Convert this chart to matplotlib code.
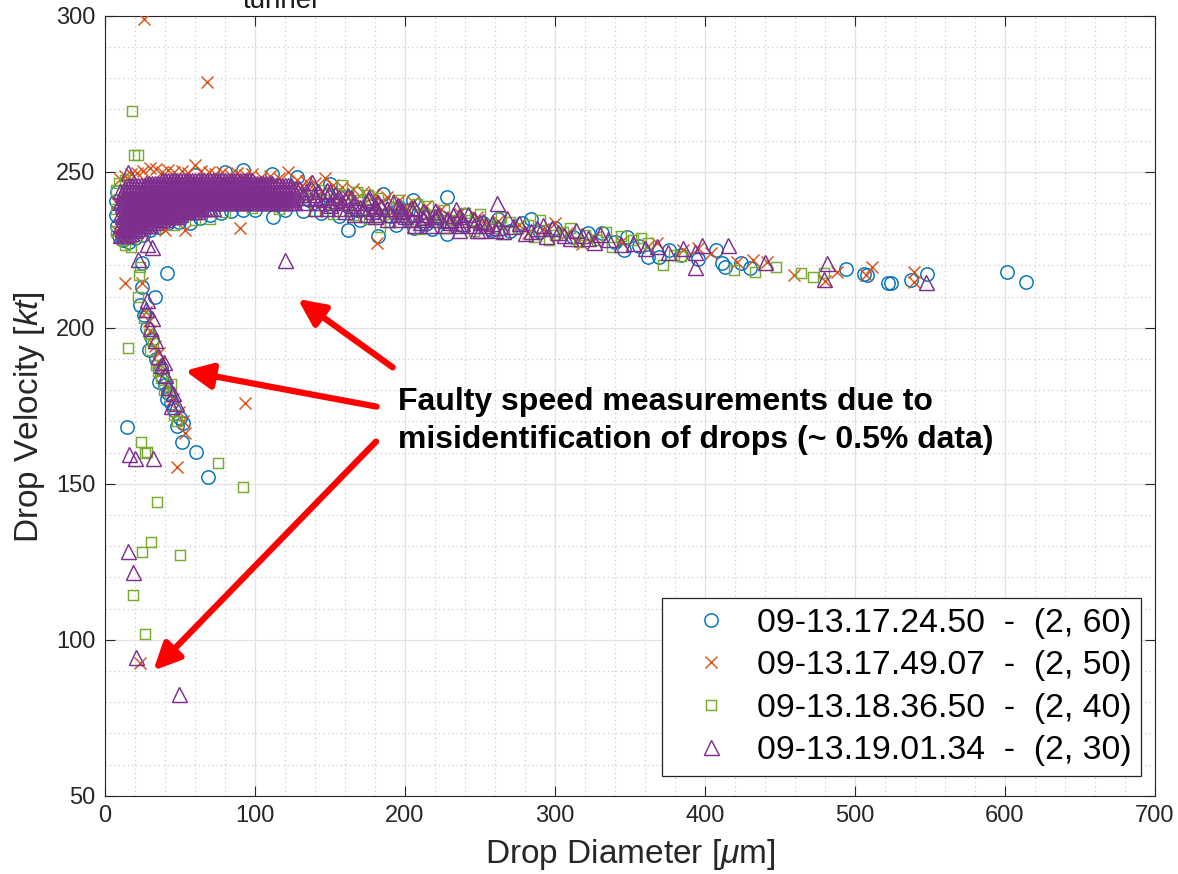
import numpy as np
import matplotlib
matplotlib.use("Agg")
import matplotlib.pyplot as plt

plt.rcParams["font.family"] = ["Liberation Sans", "DejaVu Sans"]
plt.rcParams["mathtext.fontset"] = "custom"
plt.rcParams["mathtext.rm"] = "Liberation Sans"
plt.rcParams["mathtext.it"] = "Liberation Sans:italic"

# ---------------------------------------------------------------- data
# (diameter [um], velocity [kt]) for each run
blue_pts = [
    (7, 236.0), (7, 240.5), (8, 243.5), (8, 232.5), (9, 229.5), (12, 228.0), (16, 227.6),
    (20, 228.6), (25, 229.6), (30, 231.2), (36, 232.4), (42, 233.4), (49, 233.8), (56.7, 233.5),
    (63.3, 235.1), (70, 236.0), (77, 236.8), (84, 237.3), (92, 237.6), (100, 237.8), (112, 235.4),
    (120, 237.6), (132, 237.4), (144, 236.8), (156, 235.9), (162, 231.3), (170, 234.6), (182, 229.4),
    (194, 233.0), (206, 232.0), (218, 231.5), (228, 230.0),
    (60, 249.0), (80, 250.0), (92, 250.6), (111, 249.4), (128, 248.2), (150, 246.0), (185, 243.0),
    (205, 241.0), (228, 241.8),
    (136, 240.8), (150, 239.0), (160, 242.0), (168, 237.8), (176, 240.5), (190, 235.8), (202, 237.6),
    (214, 233.2), (224, 235.4), (148, 242.6), (180, 237.2), (196, 238.8), (238, 233.0), (258, 231.2),
    (284, 234.8), (346, 224.8),
    (240, 236.0), (252, 233.5), (262, 235.0), (270, 231.0), (278, 233.5), (290, 230.6), (300, 232.0),
    (312, 229.0), (322, 230.5), (331, 230.2), (340, 227.5), (348, 229.2), (356, 226.3), (362, 222.8),
    (369, 222.6), (376, 225.0), (384, 223.4), (395, 222.0), (407, 224.9), (411, 220.6), (413, 219.6),
    (424, 220.6), (430, 219.0), (494, 218.7), (506, 217.2), (508, 217.0), (522, 214.4), (524, 214.4),
    (537, 215.3), (548, 217.2), (601, 218.0), (614, 214.5),
    (24.4, 220.6), (41.1, 217.4), (24.4, 213.1), (33.3, 210.0), (23.3, 207.3), (26, 204.0), (28, 200.0),
    (31, 196.5), (29, 193.0), (34, 190.0), (37, 187.0), (38, 184.5), (36, 182.5), (40, 181.5),
    (42, 179.0), (44, 176.0), (46, 173.5), (41, 177.0), (50, 171.0), (47.8, 168.5), (52.2, 169.4),
    (14.9, 168.3), (51.1, 163.5), (60.7, 160.3), (68.9, 152.2),
]

orange_pts = [
    (10, 247.6), (13, 248.6), (17, 249.3), (21, 249.7), (25, 250.2), (30, 251.1), (34, 250.9),
    (38, 249.8), (42, 250.5), (46, 249.9), (51, 250.3), (55, 249.6), (60, 252.1), (64, 250.2),
    (69, 250.0), (73, 249.4), (78, 249.8), (83, 249.1), (88, 249.5), (93, 248.9), (98, 249.2),
    (104, 248.4), (110, 248.7), (116, 247.9), (122, 250.0), (128, 247.4), (134, 247.0), (140, 246.4),
    (146.7, 247.9), (152, 245.6), (158, 245.0), (165, 244.6), (172, 243.5), (180, 242.8), (188, 242.0),
    (196, 241.0), (205, 240.3), (214, 239.1), (224, 238.0), (236, 236.8), (248, 235.5), (262, 234.3),
    (276, 233.0), (292, 231.6), (308, 230.2), (326, 229.0), (344, 227.6), (362, 226.3), (368, 227.1),
    (385, 224.9), (395, 225.5), (404, 224.0),
    (142, 243.0), (156, 240.6), (172, 239.2), (184, 240.4), (200, 238.6), (216, 235.0),
    (130, 244.8), (162, 241.8), (192, 237.4), (232, 235.6), (256, 232.6), (282, 230.2), (300, 233.4),
    (318, 226.8),
    (40, 231.3), (53.3, 231.3), (90, 231.9), (181, 227.2), (8, 231.0), (8, 240.0),
    (421, 221.2), (432, 221.7), (441, 221.2), (459, 216.9), (480, 215.0), (488, 218.0), (507, 216.9),
    (511, 219.5), (539, 218.0), (539, 214.7),
    (26, 298.8), (68.2, 278.8), (13.3, 214.2), (24.4, 214.2), (27, 205.0), (29, 202.0), (30, 199.0),
    (33, 194.0), (36, 192.0), (35, 189.0), (38, 186.0), (41, 181.0), (45, 177.0), (49, 173.0),
    (52, 170.0), (53.3, 166.2), (47.8, 155.5), (93.3, 175.8), (23.3, 92.6),
]

green_pts = [
    (7, 244.0), (7, 238.0), (7, 231.0), (9, 246.5), (13, 247.5), (11, 228.2), (13.3, 226.5),
    (17.1, 226.0), (21, 229.5), (33, 232.0), (46, 233.0), (60, 234.5), (70, 235.0), (80, 237.2),
    (98, 238.3), (116, 238.0), (140, 237.5), (152, 236.5), (165, 236.0), (176, 234.8), (183.3, 232.4),
    (190, 233.8), (198, 236.6), (210, 231.6), (222, 233.8), (234, 232.8), (246, 231.0), (256, 233.2),
    (266, 230.0), (275, 231.8), (286, 229.0), (296, 228.2), (305, 230.8), (316, 227.4), (328, 228.0),
    (338, 226.0), (352, 228.0), (357, 228.7), (372, 220.0), (379, 223.3), (384, 223.0), (419, 218.5),
    (433, 218.0), (447, 219.6), (464, 217.6), (472, 216.1), (479, 217.6),
    (138, 244.5), (158, 245.7), (175, 242.5), (195, 241.0), (215, 239.0), (240, 236.8), (270, 234.0),
    (200, 236.5), (230, 234.5), (185, 238.5), (260, 232.0),
    (132, 242.5), (146, 241.0), (154, 243.2), (162, 239.5), (170, 240.8), (178, 238.0), (186, 236.4),
    (194, 238.8), (204, 234.2), (212, 236.8), (220, 236.2), (226, 232.0),
    (144, 244.2), (168, 243.4), (182, 241.6), (208, 239.6), (226, 237.6), (244, 234.4), (250, 236.4),
    (264, 235.4), (282, 232.8), (290, 234.6), (300, 229.6), (310, 231.8), (320, 229.6), (334, 230.6),
    (344, 229.4), (362, 227.2),
    (17.8, 269.5), (19.6, 255.4), (21.8, 255.4), (23.6, 219.5), (22.9, 216.9), (22.2, 210.0),
    (26, 203.0), (29, 198.0), (30, 193.0), (32, 195.0), (34, 188.0), (35, 186.0), (37, 184.0),
    (39, 180.0), (44, 182.0), (43, 178.0), (46, 172.0), (48, 170.0), (15.6, 193.6), (23.8, 163.5),
    (27.8, 160.3), (26.7, 159.8), (75.6, 156.7), (91.8, 148.9), (34.9, 144.2), (30.4, 131.4),
    (24.4, 128.0), (50, 127.2), (18.9, 114.3), (26.7, 101.8),
]

purple_pts = [
    (232, 236.0), (238, 233.5), (246, 235.0), (250, 231.2), (258, 233.6), (265, 231.0), (272, 232.6),
    (280, 230.5), (288, 232.0), (294, 229.5), (302, 230.6), (310, 228.6), (318, 229.6), (326, 227.6),
    (335, 228.4), (344, 226.8), (352, 227.0), (360, 225.5), (368, 226.2), (375, 224.4), (385.6, 225.4),
    (393, 224.4), (393, 219.5), (398, 226.5), (415, 226.5), (440, 221.2), (479, 215.6), (481, 220.6),
    (547, 214.7), (261, 239.9), (138, 246.8), (15.6, 250.0),
    (132, 243.0), (140, 241.6), (148, 244.0), (154, 240.8), (162, 242.6), (170, 238.6), (176, 241.8),
    (184, 239.0), (192, 240.4), (198, 237.6), (206, 238.8), (212, 235.6), (220, 237.4), (228, 234.6),
    (234, 238.2), (242, 236.4), (252, 234.2), (262, 232.4), (268, 235.2), (276, 233.6), (284, 231.0),
    (292, 233.0), (298, 231.8), (306, 229.8), (314, 231.4), (322, 228.8), (330, 230.0),
    (28, 226.8), (31, 226.0), (120, 221.8),
    (22, 222.0), (28, 209.0), (27, 206.0), (31, 203.0), (30, 200.0), (33, 196.0), (35, 191.0),
    (39, 189.0), (37, 188.0), (40, 185.0), (42, 181.0), (45, 179.0), (44, 175.0), (47, 176.0),
    (20, 158.2), (31.8, 158.2), (16.2, 159.5), (15.5, 128.3), (18.4, 121.8), (20.7, 94.6), (49.6, 82.6),
]

# dense core of the last run, one velocity per row of diameters
purple_core_v = [247.4, 246.5, 245.6, 244.7, 243.8, 242.9, 242.0, 241.1, 240.2, 239.3,
                 238.4, 237.5, 236.6, 235.7, 234.8, 233.9, 233.0, 232.1, 231.2, 230.5, 229.8]
purple_core_d = [
    [38, 40, 42, 44, 46, 48, 50, 52, 54, 56, 58, 60, 62, 64, 66, 68, 70, 72, 74, 76, 78, 80, 82, 84,
     86, 88, 90, 92, 94, 96, 98],
    [27, 29, 31, 33, 35, 37, 39, 41, 43, 45, 47, 49, 51, 53, 55, 57, 59, 61, 63, 65, 67, 69, 71, 73,
     75, 77, 79, 81, 83, 85, 87, 89, 91, 93, 95, 97, 99, 101, 103, 105, 107, 109, 111],
    [16, 18, 20, 22, 24, 26, 28, 30, 32, 34, 36, 38, 40, 42, 44, 46, 48, 50, 52, 54, 56, 58, 60, 62,
     64, 66, 68, 70, 72, 74, 76, 78, 80, 82, 84, 86, 88, 90, 92, 94, 96, 98, 100, 102, 104, 106, 108,
     110, 112, 114, 116, 118, 120, 122, 124],
    [13, 15, 17, 19, 21, 23, 25, 27, 29, 31, 33, 35, 37, 39, 41, 43, 45, 47, 49, 51, 53, 55, 57, 59,
     61, 63, 65, 67, 69, 71, 73, 75, 77, 79, 81, 83, 85, 87, 89, 91, 93, 95, 97, 99, 101, 103, 105,
     107, 109, 111, 113, 115, 117, 119, 121, 123, 125, 127, 129, 137],
    [10, 12, 14, 16, 18, 20, 22, 24, 26, 28, 30, 32, 34, 36, 38, 40, 42, 44, 46, 48, 50, 52, 54, 56,
     58, 60, 62, 64, 66, 68, 70, 72, 74, 76, 78, 80, 82, 84, 86, 88, 90, 92, 94, 96, 98, 100, 102,
     104, 106, 108, 110, 112, 114, 116, 118, 120, 122, 124, 126, 134, 142, 150],
    [11, 13, 15, 17, 19, 21, 23, 25, 27, 29, 31, 33, 35, 37, 39, 41, 43, 45, 47, 49, 51, 53, 55, 57,
     59, 61, 63, 65, 67, 69, 71, 73, 75, 77, 79, 81, 83, 85, 87, 89, 91, 93, 95, 97, 99, 101, 103,
     105, 107, 109, 111, 113, 115, 117, 119, 121, 123, 125, 127, 139, 153],
    [12, 14, 16, 18, 20, 22, 24, 26, 28, 30, 32, 34, 36, 38, 40, 42, 44, 46, 48, 50, 52, 54, 56, 58,
     60, 62, 64, 66, 68, 70, 72, 74, 76, 78, 80, 82, 84, 86, 88, 90, 92, 94, 96, 98, 100, 102, 104,
     106, 108, 110, 112, 114, 116, 118, 120, 122, 124, 132, 140, 148, 156, 164],
    [13, 15, 17, 19, 21, 23, 25, 27, 29, 31, 33, 35, 37, 39, 41, 43, 45, 47, 49, 51, 53, 55, 57, 59,
     61, 63, 65, 67, 69, 71, 73, 75, 77, 79, 81, 83, 85, 87, 89, 91, 93, 95, 97, 99, 101, 103, 105,
     107, 109, 111, 113, 115, 117, 119, 121, 123, 125, 145, 160, 175],
    [10, 12, 14, 16, 18, 20, 22, 24, 26, 28, 30, 32, 34, 36, 38, 40, 42, 44, 46, 48, 50, 52, 54, 56,
     58, 60, 62, 64, 66, 68, 70, 72, 74, 76, 78, 80, 82, 84, 86, 88, 90, 92, 94, 96, 98, 100, 102,
     104, 106, 108, 110, 112, 114, 116, 118, 120, 122, 124, 126, 134, 142, 150, 158, 166, 174, 182],
    [11, 13, 15, 17, 19, 21, 23, 25, 27, 29, 31, 33, 35, 37, 39, 41, 43, 45, 47, 49, 51, 53, 55, 57,
     59, 61, 63, 150, 165, 180, 195],
    [12, 14, 16, 18, 20, 22, 24, 26, 28, 30, 32, 34, 36, 38, 40, 42, 44, 46, 48, 50, 52, 54, 56, 58,
     60, 62, 64, 66, 68, 70, 72, 140, 148, 156, 164, 172, 180, 188, 196, 204],
    [13, 15, 17, 19, 21, 23, 25, 27, 29, 31, 33, 35, 37, 39, 41, 43, 45, 47, 49, 51, 53, 55, 57, 59,
     61, 160, 178, 196, 212],
    [10, 12, 14, 16, 18, 20, 22, 24, 26, 28, 30, 32, 34, 36, 38, 40, 42, 44, 46, 48, 50, 166, 174,
     182, 190, 198, 206, 214, 222],
    [11, 13, 15, 17, 19, 21, 23, 25, 27, 29, 31, 33, 35, 37, 39, 41, 43, 45, 47, 180, 200, 220, 236],
    [12, 14, 16, 18, 20, 22, 24, 26, 28, 30, 32, 34, 36, 38, 40, 188, 196, 204, 212, 220, 228, 238,
     246],
    [13, 15, 17, 19, 21, 23, 25, 27, 29, 31, 33, 210, 230, 250],
    [10, 12, 14, 16, 18, 20, 22, 24, 26, 28, 30, 206, 216, 226, 236, 246, 254],
    [11, 13, 15, 17, 19, 21, 23],
    [12, 14, 16, 18, 20, 236, 248, 260],
    [13, 15, 17],
    [10, 12, 14],
]

run_labels = [
    "09-13.17.24.50  -  (2, 60)",
    "09-13.17.49.07  -  (2, 50)",
    "09-13.18.36.50  -  (2, 40)",
    "09-13.19.01.34  -  (2, 30)",
]
run_colors = ["#0072BD", "#D95319", "#77AC30", "#7E2F8E"]
run_markers = ["o", "x", "s", "^"]
run_sizes = [9.6, 8.0, 7.8, 10.8]

purple_all = purple_pts + [(d, v) for v, row in zip(purple_core_v, purple_core_d) for d in row]
runs = [blue_pts, orange_pts, green_pts, purple_all]

# ---------------------------------------------------------------- figure
fig = plt.figure(figsize=(11.78, 8.74), dpi=100)
ax = fig.add_axes([105 / 1178, 1 - 795.7 / 874, 1050 / 1178, 780 / 874])

handles = []
for pts, col, mk, ms, lab in zip(runs, run_colors, run_markers, run_sizes, run_labels):
    arr = np.array(pts)
    h, = ax.plot(arr[:, 0], arr[:, 1], linestyle="none", marker=mk, markersize=ms,
                 markerfacecolor="none", markeredgecolor=col, markeredgewidth=1.05,
                 color=col, label=lab, zorder=3)
    handles.append(h)

ax.set_xlim(0, 700)
ax.set_ylim(50, 300)
ax.set_xticks(np.arange(0, 701, 100))
ax.set_yticks(np.arange(50, 301, 50))
ax.set_xticks(np.arange(0, 701, 20), minor=True)
ax.set_yticks(np.arange(50, 301, 10), minor=True)
ax.grid(which="major", color="#e2e2e2", linewidth=0.9, linestyle="-")
ax.grid(which="minor", color="#c2c2c2", linewidth=0.8, linestyle=(0, (1, 3)))
ax.set_axisbelow(True)
ax.tick_params(which="both", direction="in", top=True, right=True)
ax.tick_params(which="major", length=7.5, width=0.8, color="#262626",
               labelcolor="#262626", labelsize=17, pad=7)
ax.tick_params(which="minor", length=0)
for sp in ax.spines.values():
    sp.set_color("#262626")
    sp.set_linewidth(0.8)

ax.set_xlabel("Drop Diameter [$\\mu$m]", fontsize=24, color="#262626", labelpad=7)
ax.set_ylabel("Drop Velocity [$kt$]", fontsize=24, color="#262626")
ax.yaxis.set_label_coords(-0.055, 0.485)

leg = ax.legend(handles=handles, loc="lower right", bbox_to_anchor=(0.987, 0.025),
                borderaxespad=0, fontsize=24.3, numpoints=1, frameon=True, fancybox=False,
                framealpha=1, edgecolor="#262626", handlelength=2.32, handletextpad=0.19,
                labelspacing=0.34, borderpad=0.3)
leg.get_frame().set_linewidth(0.9)

# annotation about the faulty measurements
ax.text(195.3, 181.0, "Faulty speed measurements due to\nmisidentification of drops (~ 0.5% data)",
        fontsize=23, fontweight="bold", ha="left", va="top", color="black", linespacing=1.36,
        zorder=5)
arrow_style = dict(arrowstyle="-|>,head_length=0.8,head_width=0.38", mutation_scale=20,
                   color="#ff0000", lw=4.5, shrinkA=0, shrinkB=0)
for tail, tip in [((191.8, 187.3), (128.5, 209.2)),
                  ((181.1, 174.7), (53.3, 186.2)),
                  ((180.7, 163.5), (32.2, 90.1))]:
    ax.annotate("", xy=tip, xytext=tail, arrowprops=arrow_style, zorder=6)

fig.text(280 / 1178, 1 - 8.3 / 874, "tunnel", ha="center", va="baseline",
         fontsize=20, color="#1a1a1a")

fig.savefig("out.png", dpi=100)
